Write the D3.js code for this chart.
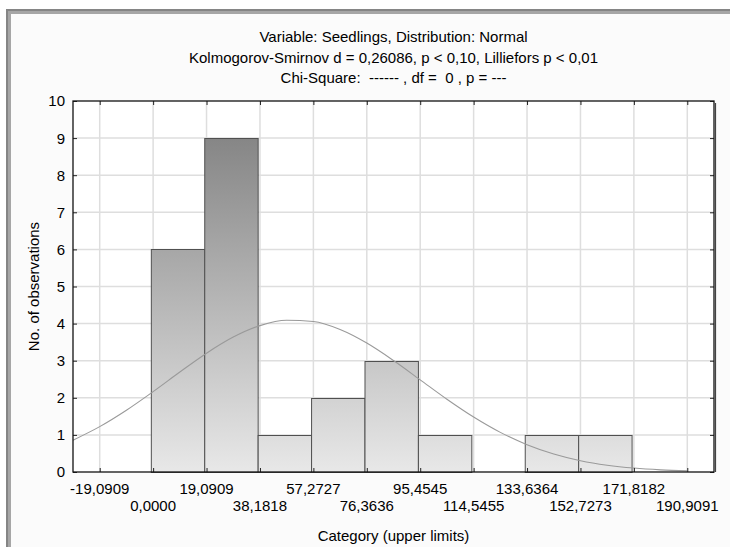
<!DOCTYPE html>
<html><head><meta charset="utf-8">
<script src="https://cdn.jsdelivr.net/npm/d3@7"></script>
<style>
html,body{margin:0;padding:0;background:#fff;overflow:hidden;}
svg{display:block;}
svg text{font-family:"Liberation Sans",Arial,sans-serif;fill:#000;white-space:pre;}
</style></head>
<body><svg id="chart" width="730" height="547"></svg>
<script>
const binWidth = 19.0909;
const binLower = [0, 19.0909, 38.1818, 57.2727, 76.3636, 95.4545, 114.5455, 133.6364, 152.7273];
const counts   = [6, 9, 1, 2, 3, 1, 0, 1, 1];
const xTicks = [-19.0909, 0, 19.0909, 38.1818, 57.2727, 76.3636, 95.4545, 114.5455, 133.6364, 152.7273, 171.8182, 190.9091];
const xTickLabels = ["-19,0909","0,0000","19,0909","38,1818","57,2727","76,3636","95,4545","114,5455","133,6364","152,7273","171,8182","190,9091"];
const yTicks = [0,1,2,3,4,5,6,7,8,9,10];
const curveX = [-28.636,-19.091,-9.545,0,9.545,19.091,28.636,38.182,47.727,57.273,66.818,76.364,85.909,95.455,105.0,114.545,124.091,133.636,143.182,152.727,162.273,171.818,181.364,190.909];
const curveY = [0.858,1.223,1.665,2.166,2.694,3.202,3.636,3.946,4.091,4.055,3.840,3.475,3.005,2.484,1.961,1.481,1.068,0.736,0.485,0.305,0.184,0.106,0.058,0.030];
const titles = ["Variable: Seedlings, Distribution: Normal",
  "Kolmogorov-Smirnov d = 0,26086, p < 0,10, Lilliefors p < 0,01",
  "Chi-Square:  ------ , df =  0 , p = ---"];
const xTitle = "Category (upper limits)";
const yTitle = "No. of observations";

const svg = d3.select("#chart");
const W = 730, H = 547;
const L = 73, R = 714, T = 101, B = 472;
const FS = 15;
const x = d3.scaleLinear().domain([-1.5*binWidth, 10.5*binWidth]).range([L, R]);
const y = d3.scaleLinear().domain([0, 10]).range([B, T]);

// outer panel with frame (top and left edges visible)
svg.append("rect").attr("x",11).attr("y",14).attr("width",W-11).attr("height",H-14).attr("fill","#fbfbfb");
svg.append("rect").attr("x",6).attr("y",9).attr("width",W-6).attr("height",2).attr("fill","#858585");
svg.append("rect").attr("x",6).attr("y",9).attr("width",2).attr("height",H-9).attr("fill","#858585");
svg.append("rect").attr("x",8).attr("y",11).attr("width",W-8).attr("height",3).attr("fill","#a6a6a6");
svg.append("rect").attr("x",8).attr("y",11).attr("width",3).attr("height",H-11).attr("fill","#a6a6a6");

// plot background
svg.append("rect").attr("x",L).attr("y",T).attr("width",R-L).attr("height",B-T).attr("fill","#fff");

// gradient
const defs = svg.append("defs");
const grad = defs.append("linearGradient").attr("id","barGrad")
  .attr("gradientUnits","userSpaceOnUse").attr("x1",0).attr("x2",0).attr("y1",T).attr("y2",B);
grad.append("stop").attr("offset","0%").attr("stop-color","#7b7b7b");
grad.append("stop").attr("offset","100%").attr("stop-color","#e8e8e8");

// grid lines
svg.append("g").selectAll("line").data(xTicks).join("line")
  .attr("x1",d=>x(d)).attr("x2",d=>x(d)).attr("y1",T).attr("y2",B)
  .attr("stroke","#dedede").attr("stroke-width",1.5);
svg.append("g").selectAll("line").data(yTicks.slice(1,-1)).join("line")
  .attr("x1",L).attr("x2",R).attr("y1",d=>y(d)).attr("y2",d=>y(d))
  .attr("stroke","#dedede").attr("stroke-width",1.5);

// bars (slightly left of grid as in original rendering)
const barOffset = -2.3;
svg.append("g").attr("transform",`translate(${barOffset},0)`)
  .selectAll("rect").data(binLower.map((b,i)=>({b,c:counts[i]})).filter(d=>d.c>0)).join("rect")
  .attr("x",d=>x(d.b)+0.5).attr("width",d=>x(d.b+binWidth)-x(d.b))
  .attr("y",d=>Math.round(y(d.c))+0.5).attr("height",d=>B-Math.round(y(d.c)))
  .attr("fill","url(#barGrad)").attr("stroke","#505050").attr("stroke-width",1);

// normal curve
const line = d3.line().x((d,i)=>x(curveX[i])).y(d=>y(d)).curve(d3.curveMonotoneX);
svg.append("path").datum(curveY).attr("d",line)
  .attr("fill","none").attr("stroke","#9a9a9a").attr("stroke-width",1.1);

// axes with inner ticks
const axB = d3.axisBottom(x).tickValues(xTicks).tickSize(-4).tickFormat("");
const axT = d3.axisTop(x).tickValues(xTicks).tickSize(-4).tickFormat("");
const axL = d3.axisLeft(y).tickValues(yTicks).tickSize(-4).tickFormat("");
const axR = d3.axisRight(y).tickValues(yTicks).tickSize(-4).tickFormat("");
[[axB,`translate(0,${B})`],[axT,`translate(0,${T})`],[axL,`translate(${L},0)`],[axR,`translate(${R},0)`]].forEach(([a,t])=>{
  const g = svg.append("g").attr("transform",t).call(a);
  g.select(".domain").remove();
  g.selectAll(".tick line").attr("stroke","#222");
});
svg.append("rect").attr("x",L).attr("y",T).attr("width",R-L).attr("height",B-T)
  .attr("fill","none").attr("stroke","#111").attr("stroke-width",1.3);
svg.append("line").attr("x1",R+1.5).attr("x2",R+1.5).attr("y1",T+2).attr("y2",B)
  .attr("stroke","#444").attr("stroke-width",1.2);

// y tick labels
svg.append("g").selectAll("text").data(yTicks).join("text")
  .attr("x",L-8).attr("y",d=>y(d)).attr("dy","0.36em").attr("text-anchor","end")
  .attr("font-size",FS).text(d=>d);

// x tick labels, alternating rows
svg.append("g").selectAll("text").data(xTicks).join("text")
  .attr("x",d=>x(d)).attr("y",(d,i)=> i%2===0 ? 489 : 506).attr("dy","0.36em")
  .attr("text-anchor","middle").attr("font-size",FS).text((d,i)=>xTickLabels[i]);

// titles
svg.append("g").selectAll("text").data(titles).join("text")
  .attr("x",(L+R)/2).attr("y",(d,i)=>37+i*20.5).attr("dy","0.36em")
  .attr("text-anchor","middle").attr("font-size",FS).text(d=>d);

svg.append("text").attr("x",(L+R)/2).attr("y",536).attr("dy","0.36em")
  .attr("text-anchor","middle").attr("font-size",FS).text(xTitle);
svg.append("text").attr("transform",`translate(34,${(T+B)/2}) rotate(-90)`).attr("dy","0.36em")
  .attr("text-anchor","middle").attr("font-size",FS).text(yTitle);
</script></body></html>
